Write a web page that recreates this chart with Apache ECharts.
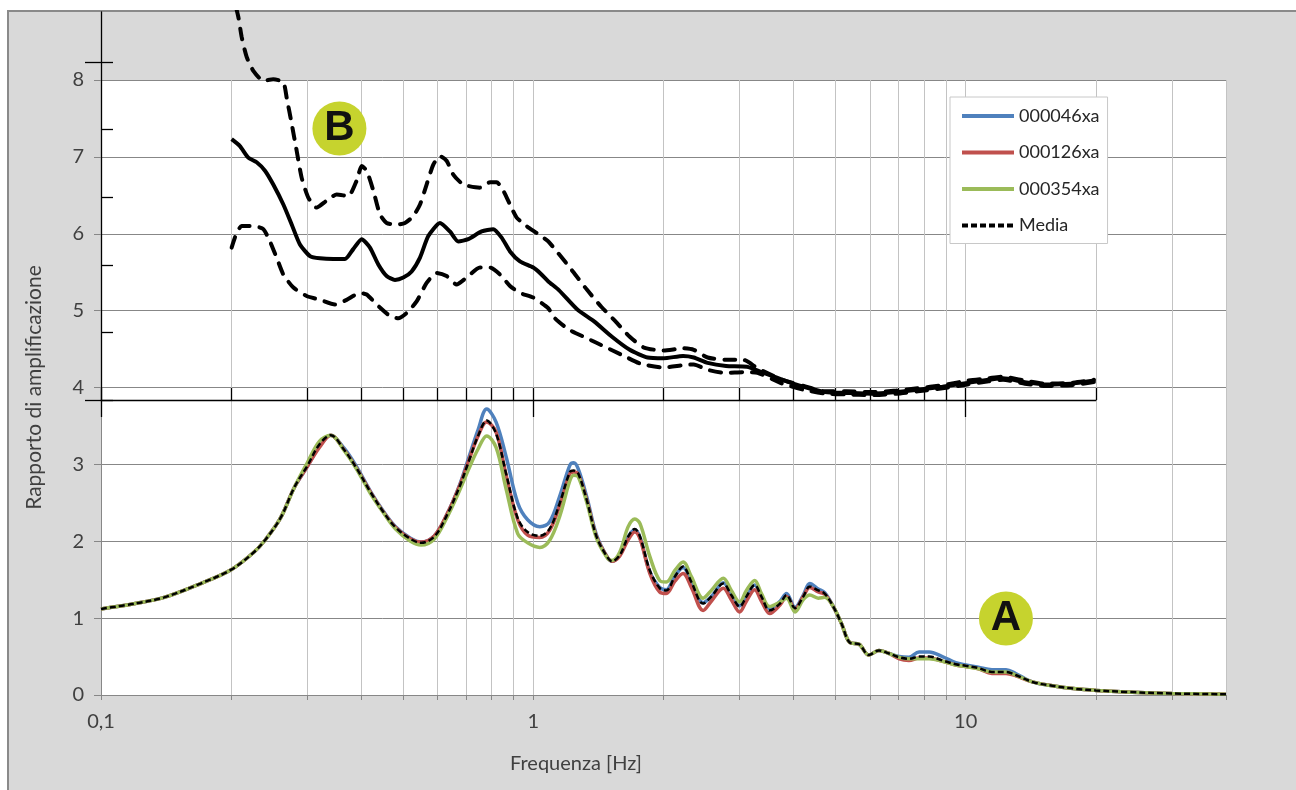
<!DOCTYPE html>
<html><head><meta charset="utf-8">
<script src="https://cdn.jsdelivr.net/npm/echarts@6/dist/echarts.min.js"></script>
<style>
html,body{margin:0;padding:0;background:#fff;}
#frame{position:absolute;left:7px;top:10px;width:1289px;height:780px;background:#d9d9d9;border-left:2px solid #8a8a8a;border-top:2px solid #8a8a8a;box-sizing:border-box;}
#chart{position:absolute;left:0;top:0;width:1296px;height:790px;}
</style></head><body>
<div id="frame"></div><div id="chart"></div>
<script>
// ---- Chart A : amplification spectra ----
const aFreq  = [0.1,0.12,0.14,0.17,0.2,0.225,0.24,0.26,0.28,0.30,0.32,0.34,0.365,0.39,0.42,0.45,0.48,0.52,0.55,0.59,0.63,0.675,0.71,0.745,0.78,0.82,0.865,0.92,0.97,1.035,1.09,1.15,1.215,1.24,1.27,1.33,1.40,1.48,1.52,1.585,1.657,1.717,1.765,1.86,1.96,2.03,2.125,2.22,2.32,2.47,2.58,2.75,2.87,3.0,3.11,3.25,3.37,3.52,3.72,3.85,4.03,4.21,4.36,4.56,4.72,4.94,5.16,5.40,5.67,5.97,6.30,6.65,7.02,7.39,7.80,8.23,8.83,9.48,10,10.7,11.5,12.4,13.05,14.26,15.87,17.97,20,23.45,30,40];
const sMedia = [1.12,1.19,1.27,1.45,1.63,1.85,2.02,2.30,2.70,2.98,3.26,3.38,3.19,2.95,2.64,2.38,2.18,2.03,1.98,2.06,2.33,2.71,3.05,3.37,3.57,3.40,2.88,2.30,2.12,2.07,2.16,2.49,2.90,2.92,2.88,2.53,2.06,1.80,1.74,1.82,2.06,2.16,2.06,1.62,1.39,1.36,1.54,1.67,1.47,1.19,1.28,1.45,1.30,1.15,1.28,1.43,1.28,1.10,1.19,1.30,1.13,1.28,1.41,1.36,1.32,1.15,0.93,0.68,0.66,0.52,0.58,0.54,0.49,0.47,0.50,0.50,0.45,0.40,0.38,0.35,0.30,0.30,0.26,0.17,0.12,0.08,0.06,0.04,0.02,0.01];
const s046   = [1.12,1.19,1.27,1.45,1.63,1.85,2.02,2.30,2.70,2.97,3.24,3.38,3.21,2.97,2.65,2.39,2.19,2.04,1.99,2.07,2.34,2.73,3.10,3.45,3.72,3.55,3.10,2.50,2.28,2.19,2.25,2.58,2.99,3.02,2.94,2.57,2.08,1.80,1.74,1.82,2.06,2.15,2.05,1.60,1.40,1.37,1.55,1.66,1.46,1.20,1.28,1.46,1.31,1.16,1.28,1.43,1.29,1.12,1.22,1.32,1.14,1.30,1.45,1.38,1.33,1.15,0.93,0.68,0.66,0.52,0.58,0.54,0.50,0.49,0.56,0.56,0.50,0.42,0.39,0.36,0.33,0.33,0.28,0.17,0.12,0.08,0.06,0.04,0.02,0.01];
const s126   = [1.12,1.19,1.27,1.45,1.63,1.85,2.02,2.30,2.70,2.97,3.22,3.38,3.19,2.95,2.64,2.38,2.18,2.03,1.99,2.07,2.34,2.72,3.06,3.37,3.55,3.42,2.86,2.28,2.08,2.05,2.14,2.46,2.88,2.90,2.87,2.53,2.06,1.80,1.74,1.81,2.02,2.12,2.03,1.58,1.34,1.32,1.48,1.58,1.40,1.10,1.22,1.39,1.24,1.08,1.22,1.37,1.22,1.06,1.17,1.28,1.12,1.28,1.40,1.34,1.31,1.15,0.93,0.68,0.66,0.52,0.58,0.54,0.47,0.45,0.48,0.48,0.44,0.39,0.37,0.34,0.28,0.28,0.25,0.17,0.12,0.08,0.06,0.04,0.02,0.01];
const s354   = [1.12,1.19,1.27,1.45,1.63,1.85,2.02,2.30,2.70,3.02,3.30,3.38,3.18,2.94,2.62,2.37,2.16,2.00,1.95,2.03,2.30,2.66,2.95,3.20,3.37,3.22,2.68,2.10,1.98,1.92,2.01,2.32,2.79,2.86,2.84,2.50,2.04,1.79,1.75,1.86,2.19,2.29,2.23,1.80,1.49,1.47,1.62,1.73,1.54,1.26,1.36,1.52,1.36,1.21,1.36,1.49,1.32,1.15,1.21,1.26,1.08,1.24,1.30,1.26,1.27,1.15,0.93,0.68,0.66,0.52,0.58,0.54,0.49,0.47,0.47,0.47,0.44,0.39,0.37,0.34,0.30,0.30,0.26,0.17,0.12,0.08,0.06,0.04,0.02,0.01];

// ---- Chart B : mean and +/- sigma ----
const bUpFreq  = [0.2,0.2078,0.2115,0.2172,0.2251,0.2374,0.2503,0.2641,0.2688,0.2761,0.2835,0.2911,0.3016,0.3153,0.3325,0.3508,0.3733,0.3902,0.4008,0.4116,0.4265,0.4419,0.4578,0.4828,0.5047,0.5277,0.5468,0.5664,0.5870,0.6081,0.6300,0.6528,0.6886,0.7524,0.7936,0.8225,0.8522,0.8831,0.9150,0.9647,1.0175,1.0827,1.234,1.331,1.436,1.549,1.671,1.803,2.0,2.22,2.35,2.53,2.79,3.06,3.30,3.77,4.22,4.73,5.30,6.06,6.91,7.75,8.84,10.1,11.3,12.2,13.7,15.3,17.5,19.8];
const bUpVal   = [9.2,8.82,8.56,8.30,8.12,7.99,8.01,7.97,7.77,7.43,7.08,6.73,6.47,6.34,6.43,6.51,6.49,6.69,6.88,6.82,6.56,6.25,6.14,6.12,6.14,6.23,6.38,6.64,6.90,7.01,6.95,6.77,6.64,6.60,6.67,6.67,6.56,6.38,6.21,6.10,6.01,5.90,5.51,5.27,5.05,4.86,4.66,4.52,4.48,4.51,4.49,4.39,4.36,4.36,4.25,4.10,4.02,3.95,3.95,3.94,3.96,3.99,4.03,4.09,4.12,4.14,4.09,4.05,4.06,4.10];
const bMeanFreq = [0.2005,0.2096,0.2191,0.2291,0.2395,0.2503,0.2641,0.2761,0.2885,0.3043,0.3210,0.3446,0.3667,0.3832,0.4008,0.4189,0.4379,0.4578,0.4786,0.5003,0.5230,0.5468,0.5715,0.6081,0.6413,0.6705,0.7071,0.7593,0.8078,0.8446,0.8831,0.9311,0.9996,1.04,1.083,1.144,1.266,1.382,1.520,1.671,1.837,2.0,2.22,2.35,2.53,2.79,3.12,3.37,3.77,4.22,4.73,5.30,6.06,6.91,7.75,8.84,10.1,11.3,12.2,13.7,15.3,17.5,19.8];
const bMeanVal  = [7.23,7.14,6.99,6.93,6.82,6.64,6.38,6.12,5.86,5.71,5.68,5.67,5.67,5.80,5.93,5.82,5.60,5.45,5.40,5.43,5.51,5.69,5.97,6.14,6.03,5.90,5.93,6.03,6.06,5.95,5.77,5.64,5.56,5.48,5.38,5.27,5.01,4.86,4.66,4.49,4.39,4.38,4.41,4.39,4.32,4.28,4.27,4.20,4.10,4.01,3.94,3.93,3.92,3.94,3.97,4.01,4.06,4.10,4.12,4.07,4.04,4.05,4.09];
const bLowFreq = [0.2005,0.2059,0.2115,0.2251,0.2374,0.2459,0.2548,0.2641,0.2786,0.2989,0.3210,0.3477,0.3699,0.3972,0.4116,0.4340,0.4660,0.4870,0.5093,0.5371,0.5664,0.5974,0.6300,0.6644,0.7009,0.7524,0.7936,0.8372,0.8831,0.9311,0.9996,1.0827,1.122,1.211,1.331,1.463,1.608,1.768,2.0,2.22,2.35,2.53,2.79,3.06,3.30,3.77,4.22,4.73,5.30,6.06,6.91,7.75,8.84,10.1,11.3,12.2,13.7,15.3,17.5,19.8];
const bLowVal  = [5.82,6.01,6.10,6.10,6.06,5.90,5.69,5.47,5.30,5.19,5.14,5.08,5.14,5.23,5.21,5.08,4.93,4.90,4.97,5.12,5.36,5.49,5.45,5.34,5.43,5.56,5.56,5.47,5.32,5.23,5.17,5.03,4.90,4.75,4.64,4.53,4.42,4.31,4.26,4.29,4.30,4.23,4.19,4.20,4.19,4.05,3.97,3.92,3.91,3.90,3.92,3.95,3.99,4.04,4.08,4.10,4.05,4.02,4.03,4.07];

const seriesNames = ['000046xa','000126xa','000354xa','Media'];
const seriesColors = ['#4f81bd','#c0504d','#9bbb59','#000000'];
const xTickValues = [0.1, 1, 10];
const xTickLabels = ['0,1', '1', '10'];
const bDecorMinorTicks = [0, 1, 2, 3, 4, 5];
const bDecorMajorTicks = [0, 5];
const xMin = 0.1, xMaxA = 40, xMaxB = 20, yMaxA = 8;
const badges = [{name:'A', f:12.39, v:0.995}, {name:'B', f:0.356, v:7.37}];

// ---- layout ----
const FONT = 'Lato, "Open Sans", sans-serif';
const TXT = '#404040';
const gA = {left:101, top:80, width:1125, height:615};
const gBTop = 12, gBBottom = 400;
const pxPerUnit = gA.height / yMaxA;
const bMin = (gA.top + gA.height - gBBottom) / pxPerUnit;
const bMax = (gA.top + gA.height - gBTop) / pxPerUnit;
const gBWidth = gA.width * Math.log10(xMaxB / xMin) / Math.log10(xMaxA / xMin);
const bTickStep = 67.6;
const bDecorMax = (gBBottom - gBTop) / bTickStep;

const pair = (fs, vs) => fs.map((f, i) => [f, vs[i]]);
const aVals = [s046, s126, s354, sMedia];

const gray = '#878787', light = '#c3c3c3';

const series = aVals.map((vals, i) => ({
  name: seriesNames[i], type: 'line', xAxisIndex: 0, yAxisIndex: 0,
  data: pair(aFreq, vals), symbol: 'none', smooth: 0.35,
  lineStyle: i === 3 ? {color: '#000', width: 2.5, type: [6, 3]} : {color: seriesColors[i], width: 3.5},
  itemStyle: {color: seriesColors[i]},
  z: 3 + i
}));
series[3].markPoint = {
  symbol: 'circle', symbolSize: 54,
  itemStyle: {color: '#c6d32e'},
  label: {show: true, formatter: p => p.name, fontSize: 42, fontWeight: 'bold', color: '#111', fontFamily: '"Liberation Sans", Arial, sans-serif'},
  data: badges.map(b => ({name: b.name, coord: [b.f, b.v]})),
  z: 10
};
const bStyle = (dashed) => ({color: '#000', width: 4, type: dashed ? [11, 10] : 'solid', cap: dashed ? 'round' : 'butt'});
series.push(
  {name: 'B_up', type: 'line', xAxisIndex: 1, yAxisIndex: 1, data: pair(bUpFreq, bUpVal), symbol: 'none', smooth: 0.2, lineStyle: bStyle(true), z: 8},
  {name: 'B_mean', type: 'line', xAxisIndex: 1, yAxisIndex: 1, data: pair(bMeanFreq, bMeanVal), symbol: 'none', smooth: 0.2, lineStyle: bStyle(false), z: 8},
  {name: 'B_low', type: 'line', xAxisIndex: 1, yAxisIndex: 1, data: pair(bLowFreq, bLowVal), symbol: 'none', smooth: 0.2, lineStyle: bStyle(true), z: 8}
);

const labelFor = v => {
  const k = xTickValues.findIndex(t => Math.abs(t - v) < 1e-9);
  return k >= 0 ? xTickLabels[k] : '';
};

const chart = echarts.init(document.getElementById('chart'));
chart.setOption({
  backgroundColor: 'transparent',
  animation: false,
  grid: [
    {left: gA.left, top: gA.top, width: gA.width, height: gA.height, show: true, backgroundColor: '#fff', borderWidth: 0},
    {left: gA.left, top: gBTop, width: gBWidth, height: gBBottom - gBTop, show: false}
  ],
  xAxis: [
    {gridIndex: 0, type: 'log', logBase: 10, min: xMin, max: xMaxA,
     axisLine: {show: true, lineStyle: {color: gray, width: 1}},
     axisTick: {show: true, length: 5, lineStyle: {color: gray}},
     minorTick: {show: true, splitNumber: 9, length: 5, lineStyle: {color: gray}},
     axisLabel: {show: true, margin: 17, fontSize: 20, fontFamily: FONT, color: TXT, formatter: labelFor, showMaxLabel: false},
     splitLine: {show: true, lineStyle: {color: light, width: 1}},
     minorSplitLine: {show: true, lineStyle: {color: light, width: 1}}},
    {gridIndex: 1, type: 'log', logBase: 10, min: xMin, max: xMaxB, position: 'bottom',
     axisLine: {show: true, onZero: false, lineStyle: {color: '#000', width: 1.3}},
     axisTick: {show: true, inside: true, length: 12, lineStyle: {color: '#000', width: 1.3}},
     minorTick: {show: true, splitNumber: 9, length: 12, lineStyle: {color: '#000', width: 1.3}},
     axisLabel: {show: false}, splitLine: {show: false}},
    {gridIndex: 1, type: 'log', logBase: 10, min: xMin, max: xMaxB, position: 'bottom',
     axisLine: {show: false, onZero: false},
     axisTick: {show: true, inside: false, length: 17, customValues: xTickValues, lineStyle: {color: '#000', width: 1.3}},
     axisLabel: {show: false}, splitLine: {show: false}}
  ],
  yAxis: [
    {gridIndex: 0, type: 'value', min: 0, max: yMaxA, interval: 1,
     axisLine: {show: true, lineStyle: {color: gray}},
     axisTick: {show: true, length: 7, lineStyle: {color: gray}},
     axisLabel: {margin: 17, fontSize: 20, fontFamily: FONT, color: TXT},
     splitLine: {show: true, lineStyle: {color: gray, width: 1}},
     name: 'Rapporto di amplificazione', nameLocation: 'middle', nameGap: 56,
     nameTextStyle: {fontSize: 21, fontFamily: FONT, color: TXT}},
    {gridIndex: 1, type: 'value', min: bMin, max: bMax, show: false},
    {gridIndex: 1, type: 'value', min: 0, max: bDecorMax, interval: 1, position: 'left',
     axisLine: {show: true, onZero: false, lineStyle: {color: '#000', width: 1.3}},
     axisTick: {show: true, inside: true, length: 12, customValues: bDecorMinorTicks, lineStyle: {color: '#000', width: 1.3}},
     axisLabel: {show: false}, splitLine: {show: false}},
    {gridIndex: 1, type: 'value', min: 0, max: bDecorMax, interval: 5, position: 'left',
     axisLine: {show: false, onZero: false},
     axisTick: {show: true, inside: false, length: 16, customValues: bDecorMajorTicks, lineStyle: {color: '#000', width: 1.3}},
     axisLabel: {show: false}, splitLine: {show: false}}
  ],
  legend: {
    data: seriesNames, orient: 'vertical', left: 950, top: 97,
    padding: [10, 8, 9, 10], itemWidth: 52, itemHeight: 14, itemGap: 18.5,
    backgroundColor: '#fff', borderColor: '#c8c8c8', borderWidth: 1, borderRadius: 0,
    itemStyle: {opacity: 0},
    lineStyle: {width: 4},
    textStyle: {fontSize: 18, fontFamily: FONT, color: '#262626'}
  },
  graphic: [
    {type: 'text', x: 576, y: 764, style: {text: 'Frequenza [Hz]', font: '20px ' + FONT, fill: TXT, align: 'center', verticalAlign: 'middle'}}
  ],
  series: series
});
</script>
</body></html>
